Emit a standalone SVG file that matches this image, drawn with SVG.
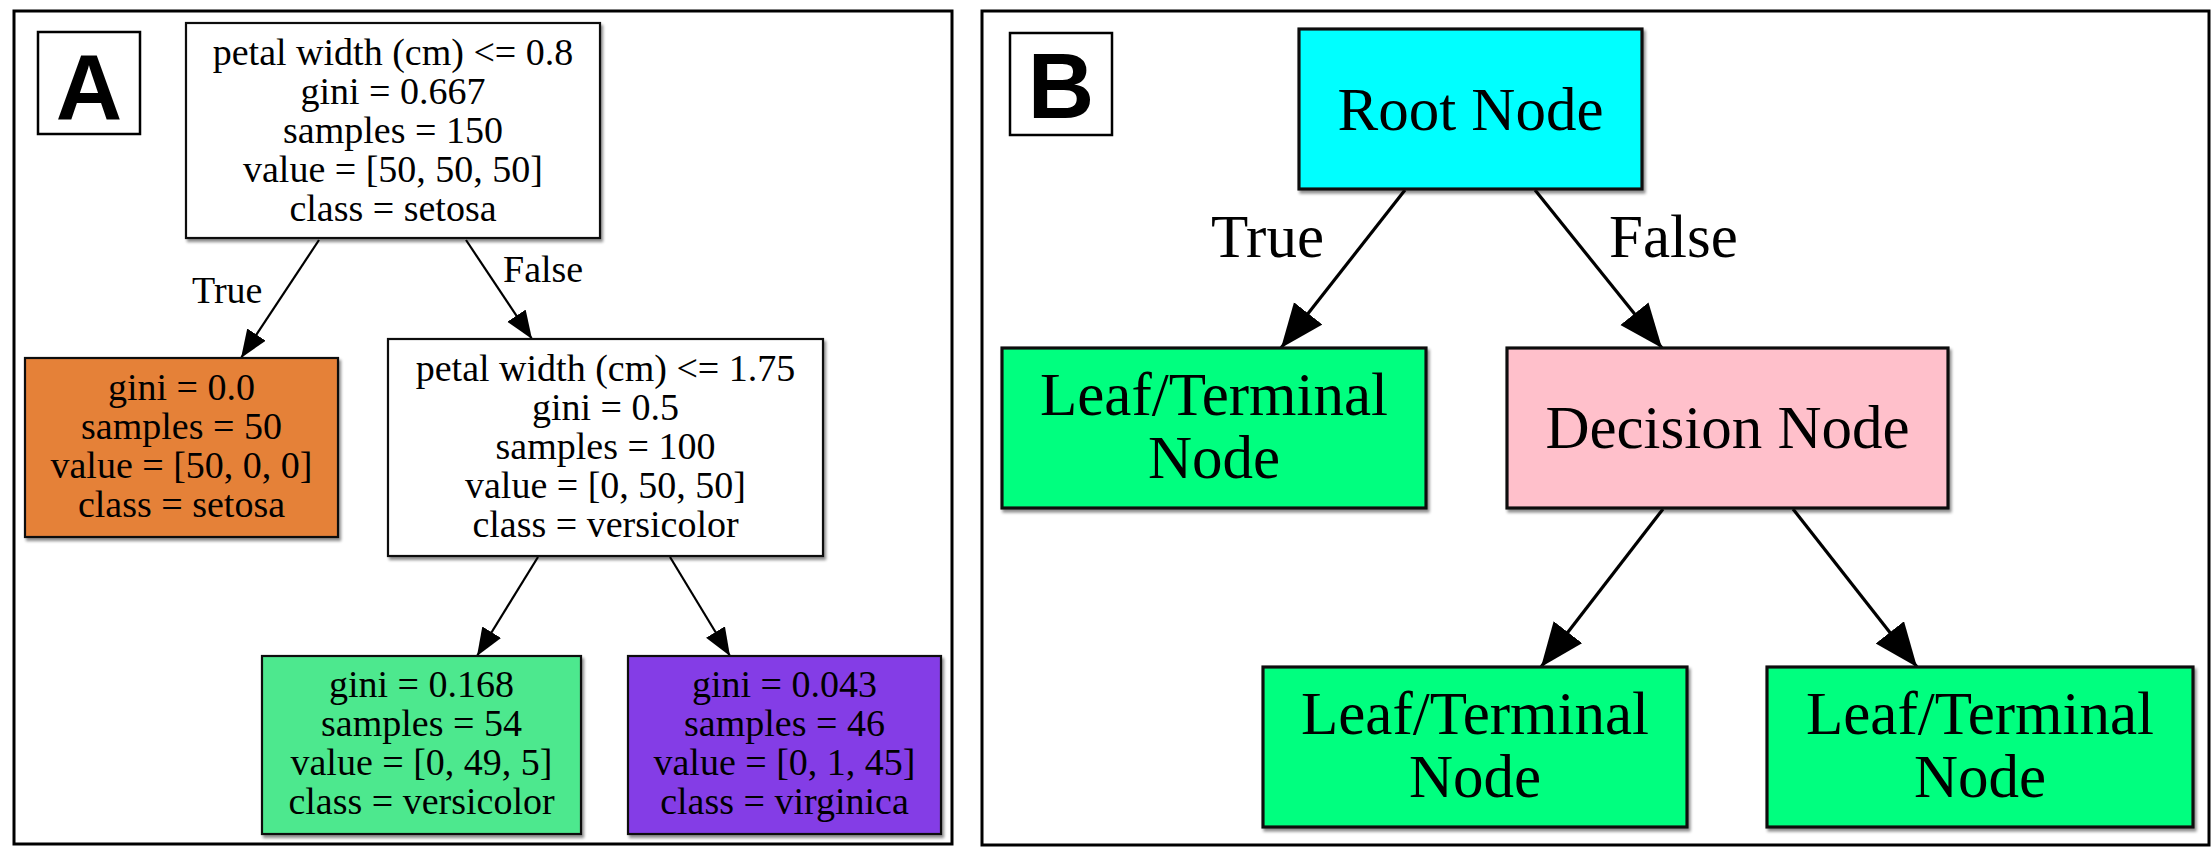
<svg xmlns="http://www.w3.org/2000/svg" width="2212" height="847" viewBox="0 0 2212 847">
<style>
.frame{fill:#ffffff;stroke:#000;stroke-width:3}
.lbox{fill:#ffffff;stroke:#000;stroke-width:2.5}
.ltxt{font-family:"Liberation Sans",Arial,sans-serif;font-weight:bold;font-size:92px;fill:#000;text-anchor:middle}
.na{stroke:#111;stroke-width:2.2;filter:url(#sh)}
.nb{stroke:#111;stroke-width:3.2;filter:url(#sh)}
.ta{font-family:"Liberation Serif","Times New Roman",serif;font-size:38px;fill:#000;text-anchor:middle}
.tb{font-family:"Liberation Serif","Times New Roman",serif;font-size:61px;fill:#000;text-anchor:middle}
.ea{stroke:#000;stroke-width:2.2;fill:none;marker-end:url(#ha)}
.eb{stroke:#000;stroke-width:3.2;fill:none;marker-end:url(#hb)}
.ela{font-family:"Liberation Serif","Times New Roman",serif;font-size:38px;fill:#000}
.elb{font-family:"Liberation Serif","Times New Roman",serif;font-size:61px;fill:#000}
</style>
<defs>
<filter id="sh" x="-5%" y="-5%" width="112%" height="115%">
<feGaussianBlur in="SourceAlpha" stdDeviation="1.5"/>
<feOffset dx="2" dy="2.5" result="b"/>
<feComponentTransfer><feFuncA type="linear" slope="0.45"/></feComponentTransfer>
<feMerge><feMergeNode/><feMergeNode in="SourceGraphic"/></feMerge>
</filter>
<marker id="ha" markerUnits="userSpaceOnUse" markerWidth="32" markerHeight="26" refX="28" refY="11" orient="auto">
<path d="M0,0 L28,11 L0,22 z" fill="#000"/>
</marker>
<marker id="hb" markerUnits="userSpaceOnUse" markerWidth="48" markerHeight="40" refX="44" refY="18" orient="auto">
<path d="M0,0 L44,18 L0,36 z" fill="#000"/>
</marker>
</defs>

<rect width="2212" height="847" fill="#ffffff"/>

<g id="panel-a">
<rect class="frame" x="14" y="11" width="938" height="833"/>
<rect class="lbox" x="38" y="32" width="102" height="102"/>
<text class="ltxt" x="89" y="119">A</text>
</g>

<g id="panel-b">
<rect class="frame" x="982" y="11" width="1227" height="834"/>
<rect class="lbox" x="1010" y="33" width="102" height="102"/>
<text class="ltxt" x="1061" y="118">B</text>
</g>

<g id="connectors">
<path class="ea" d="M319,240 L241,358"/>
<path class="ea" d="M466,240 L532,339"/>
<path class="ea" d="M538,557 L477,656"/>
<path class="ea" d="M670,557 L730,656"/>
<text class="ela" x="192" y="303">True</text>
<text class="ela" x="503" y="282">False</text>
<path class="eb" d="M1405,190 L1281,348"/>
<path class="eb" d="M1535,190 L1662,348"/>
<path class="eb" d="M1663,509 L1541,667"/>
<path class="eb" d="M1793,509 L1917,667"/>
<text class="elb" x="1211" y="257">True</text>
<text class="elb" x="1609" y="257">False</text>
</g>

<g id="a-root">
<rect class="na" x="186" y="23" width="414" height="215" fill="#ffffff"/>
<text class="ta" x="393" y="65">petal width (cm) &lt;= 0.8</text>
<text class="ta" x="393" y="104">gini = 0.667</text>
<text class="ta" x="393" y="143">samples = 150</text>
<text class="ta" x="393" y="182">value = [50, 50, 50]</text>
<text class="ta" x="393" y="221">class = setosa</text>
</g>

<g id="a-setosa">
<rect class="na" x="25" y="358" width="313" height="179" fill="#e58139"/>
<text class="ta" x="181.5" y="400">gini = 0.0</text>
<text class="ta" x="181.5" y="439">samples = 50</text>
<text class="ta" x="181.5" y="478">value = [50, 0, 0]</text>
<text class="ta" x="181.5" y="517">class = setosa</text>
</g>

<g id="a-split">
<rect class="na" x="388" y="339" width="435" height="217" fill="#ffffff"/>
<text class="ta" x="605.5" y="381">petal width (cm) &lt;= 1.75</text>
<text class="ta" x="605.5" y="420">gini = 0.5</text>
<text class="ta" x="605.5" y="459">samples = 100</text>
<text class="ta" x="605.5" y="498">value = [0, 50, 50]</text>
<text class="ta" x="605.5" y="537">class = versicolor</text>
</g>

<g id="a-versicolor">
<rect class="na" x="262" y="656" width="319" height="178" fill="#4de88e"/>
<text class="ta" x="421.5" y="697">gini = 0.168</text>
<text class="ta" x="421.5" y="736">samples = 54</text>
<text class="ta" x="421.5" y="775">value = [0, 49, 5]</text>
<text class="ta" x="421.5" y="814">class = versicolor</text>
</g>

<g id="a-virginica">
<rect class="na" x="628" y="656" width="313" height="178" fill="#843de6"/>
<text class="ta" x="784.5" y="697">gini = 0.043</text>
<text class="ta" x="784.5" y="736">samples = 46</text>
<text class="ta" x="784.5" y="775">value = [0, 1, 45]</text>
<text class="ta" x="784.5" y="814">class = virginica</text>
</g>

<g id="b-root">
<rect class="nb" x="1299" y="29" width="343" height="160" fill="#00ffff"/>
<text class="tb" x="1470.5" y="130">Root Node</text>
</g>

<g id="b-leaf1">
<rect class="nb" x="1002" y="348" width="424" height="160" fill="#00ff7f"/>
<text class="tb" x="1214" y="415">Leaf/Terminal</text>
<text class="tb" x="1214" y="478">Node</text>
</g>

<g id="b-decision">
<rect class="nb" x="1507" y="348" width="441" height="160" fill="#ffc0cb"/>
<text class="tb" x="1727.5" y="448">Decision Node</text>
</g>

<g id="b-leaf2">
<rect class="nb" x="1263" y="667" width="424" height="160" fill="#00ff7f"/>
<text class="tb" x="1475" y="734">Leaf/Terminal</text>
<text class="tb" x="1475" y="797">Node</text>
</g>

<g id="b-leaf3">
<rect class="nb" x="1767" y="667" width="426" height="160" fill="#00ff7f"/>
<text class="tb" x="1980" y="734">Leaf/Terminal</text>
<text class="tb" x="1980" y="797">Node</text>
</g>
</svg>
